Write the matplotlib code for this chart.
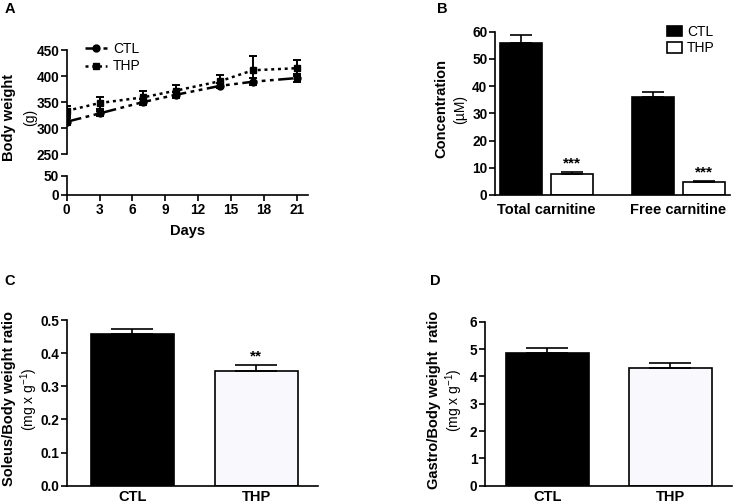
import matplotlib
matplotlib.use("Agg")
import matplotlib.pyplot as plt
import matplotlib.patches as mpatches
from matplotlib.lines import Line2D
import numpy as np

plt.rcParams["font.family"] = ["Liberation Sans", "DejaVu Sans"]
plt.rcParams["font.weight"] = "bold"
plt.rcParams["mathtext.default"] = "regular"
plt.rcParams["axes.linewidth"] = 1.2
plt.rcParams["xtick.major.width"] = 1.2
plt.rcParams["ytick.major.width"] = 1.2
plt.rcParams["xtick.major.size"] = 4
plt.rcParams["ytick.major.size"] = 4

# Panel A: body weight over time
days = [0, 3, 7, 10, 14, 17, 21]
ctl_bw = [312, 328, 350, 364, 381, 389, 396]
ctl_bw_err = [7, 5, 6, 6, 5, 7, 8]
thp_bw = [333, 348, 359, 372, 390, 411, 415]
thp_bw_err = [10, 12, 12, 11, 12, 27, 15]

# Panel B: carnitine
carn_groups = ["Total carnitine", "Free carnitine"]
carn_ctl = [56.0, 36.1]
carn_ctl_err = [2.8, 1.6]
carn_thp = [7.6, 4.7]
carn_thp_err = [1.0, 0.5]

# Panels C, D: muscle / body weight ratio
groups = ["CTL", "THP"]
soleus = [0.457, 0.345]
soleus_err = [0.015, 0.019]
gastro = [4.84, 4.32]
gastro_err = [0.19, 0.18]

W, H = 738, 504
THP_FACE = "#f8f8fd"


def rect(l, t, r, b):
    return [l / W, 1 - b / H, (r - l) / W, (b - t) / H]


def style(ax):
    ax.spines["top"].set_visible(False)
    ax.spines["right"].set_visible(False)
    ax.tick_params(labelsize=9.8, pad=1.5)


def ylabel(x1, x2, y, bold_text, unit_text):
    fig.text(x1 / W, 1 - y / H, bold_text, rotation=90, ha="center", va="center",
             fontsize=10.5, fontweight="bold")
    fig.text(x2 / W, 1 - y / H, unit_text, rotation=90, ha="center", va="center",
             fontsize=10, fontweight="normal")


fig = plt.figure(figsize=(W / 100, H / 100), dpi=100)

# ---- A ----
axA = fig.add_axes(rect(66.7, 50, 307.6, 154))
axA0 = fig.add_axes(rect(66.7, 175.7, 307.6, 195), sharex=axA)
for ax in (axA, axA0):
    style(ax)
axA.spines["bottom"].set_visible(False)
axA.tick_params(axis="x", bottom=False, labelbottom=False)

axA.errorbar(days, ctl_bw, yerr=ctl_bw_err, color="black", marker="o", ms=5,
             lw=1.8, dashes=(6, 1.8, 1.5, 1.8, 1.5, 1.8), capsize=3, elinewidth=1.4,
             capthick=1.4)
axA.errorbar(days, thp_bw, yerr=thp_bw_err, color="black", marker="s", ms=5,
             lw=1.8, dashes=(1.2, 1.5), capsize=3, elinewidth=1.4, capthick=1.4)
axA.set_ylim(250, 450)
axA.set_yticks([250, 300, 350, 400, 450])
axA.set_xlim(0, 22)
axA0.set_ylim(0, 50)
axA0.set_yticks([0, 50])
axA0.set_xticks(range(0, 22, 3))
axA0.set_xlabel("Days", fontsize=10.5, fontweight="bold", labelpad=5)

handles = [Line2D([], [], color="black", marker="o", ms=5, lw=1.8,
                  dashes=(3, 1.5, 1.2, 1.5)),
           Line2D([], [], color="black", marker="s", ms=5, lw=1.8, dashes=(1.2, 1.5))]
fig.legend(handles, ["CTL", "THP"], loc="upper left", frameon=False,
           bbox_to_anchor=(85 / W, 1 - 42 / H), borderpad=0, borderaxespad=0,
           handlelength=1.6, handletextpad=0.4, labelspacing=0.25,
           prop={"size": 10, "weight": "normal"})
ylabel(9, 30, 117, "Body weight", "(g)")
fig.text(10 / W, 1 - 9 / H, "A", ha="center", va="center", fontsize=10.5)

# ---- B ----
axB = fig.add_axes(rect(495, 31.7, 730, 195))
style(axB)
xg = np.arange(len(carn_groups))
bw = 0.314
off = 0.193
axB.bar(xg - off, carn_ctl, bw, color="black", edgecolor="black", lw=1.2)
axB.bar(xg + off, carn_thp, bw, color="white", edgecolor="black", lw=1.2)
axB.errorbar(xg - off, carn_ctl, yerr=[[0] * 2, carn_ctl_err], fmt="none",
             ecolor="black", capsize=8, elinewidth=1.2, capthick=1.2)
axB.errorbar(xg + off, carn_thp, yerr=[[0] * 2, carn_thp_err], fmt="none",
             ecolor="black", capsize=8, elinewidth=1.2, capthick=1.2)
for x, v, e in zip(xg + off, carn_thp, carn_thp_err):
    axB.text(x, v + e + 0.4, "***", ha="center", va="bottom", fontsize=11)
axB.set_xlim(-0.389, 1.39)
axB.set_ylim(0, 60)
axB.set_yticks(range(0, 61, 10))
axB.set_xticks(xg)
axB.set_xticklabels(carn_groups, fontsize=10.5)
axB.tick_params(axis="x", length=0, pad=6)
legB = [mpatches.Patch(facecolor="black", edgecolor="black", lw=1.2),
        mpatches.Patch(facecolor="white", edgecolor="black", lw=1.2)]
fig.legend(legB, ["CTL", "THP"], loc="upper left", frameon=False,
           bbox_to_anchor=(667 / W, 1 - 25 / H), borderpad=0, borderaxespad=0,
           handlelength=1.05, handleheight=0.8, handletextpad=0.4, labelspacing=0.15,
           prop={"size": 10, "weight": "normal"})
ylabel(441, 460, 109, "Concentration", "(\u00b5M)")
fig.text(442 / W, 1 - 9 / H, "B", ha="center", va="center", fontsize=10.5)

# ---- C ----
axC = fig.add_axes(rect(66.7, 320, 318, 485.7))
style(axC)
xc = np.arange(len(groups))
axC.bar(xc, soleus, 0.672, color=["black", THP_FACE], edgecolor="black", lw=1.2)
axC.errorbar(xc, soleus, yerr=[[0] * 2, soleus_err], fmt="none", ecolor="black",
             capsize=15, elinewidth=1.2, capthick=1.2)
axC.text(xc[1], soleus[1] + soleus_err[1] + 0.006, "**", ha="center", va="bottom",
         fontsize=11)
axC.set_xlim(-0.529, 1.498)
axC.set_ylim(0, 0.5)
axC.set_yticks(np.arange(0, 0.51, 0.1))
axC.set_yticklabels(["0.0", "0.1", "0.2", "0.3", "0.4", "0.5"])
axC.set_xticks(xc)
axC.set_xticklabels(groups, fontsize=10.5)
axC.tick_params(axis="x", length=0, pad=3)
ylabel(9, 29, 399, "Soleus/Body weight ratio", "(mg x g$^{-1}$)")
fig.text(10 / W, 1 - 281 / H, "C", ha="center", va="center", fontsize=10.5)

# ---- D ----
axD = fig.add_axes(rect(485, 321.7, 731.7, 485.7))
style(axD)
axD.bar(xc, gastro, 0.675, color=["black", THP_FACE], edgecolor="black", lw=1.2)
axD.errorbar(xc, gastro, yerr=[[0] * 2, gastro_err], fmt="none", ecolor="black",
             capsize=15, elinewidth=1.2, capthick=1.2)
axD.set_xlim(-0.508, 1.498)
axD.set_ylim(0, 6)
axD.set_yticks(range(0, 7))
axD.set_xticks(xc)
axD.set_xticklabels(groups, fontsize=10.5)
axD.tick_params(axis="x", length=0, pad=3)
ylabel(434, 454, 400, "Gastro/Body weight  ratio", "(mg x g$^{-1}$)")
fig.text(435 / W, 1 - 281 / H, "D", ha="center", va="center", fontsize=10.5)

fig.savefig("out.png", dpi=100)
